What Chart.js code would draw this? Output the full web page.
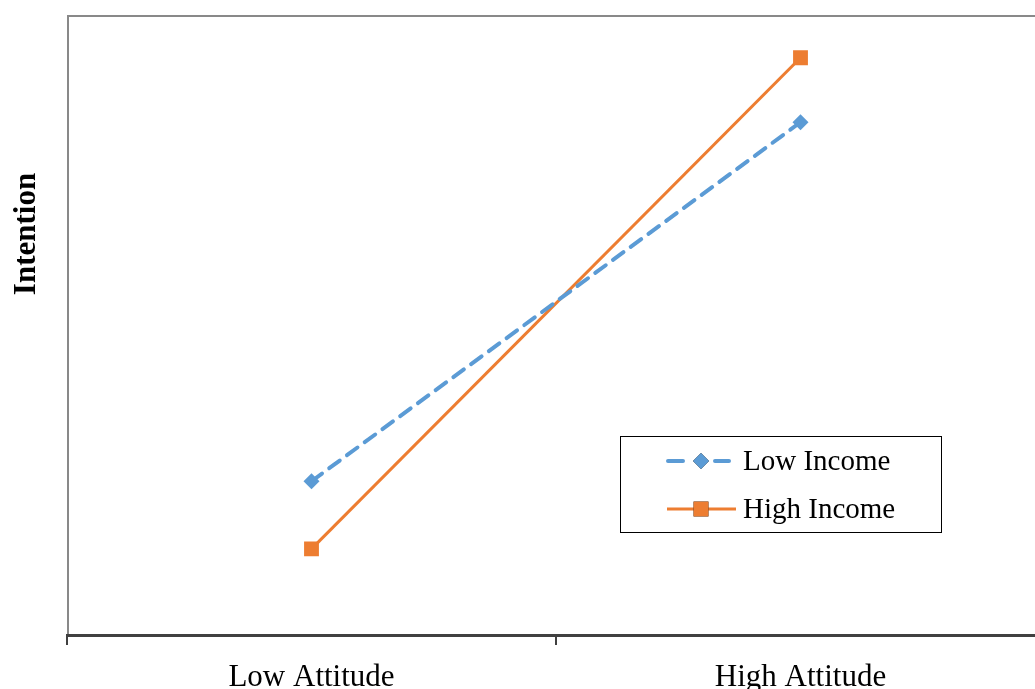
<!DOCTYPE html>
<html>
<head>
<meta charset="utf-8">
<script src="https://cdn.jsdelivr.net/npm/chart.js@4.4.1/dist/chart.umd.min.js"></script>
<style>
  html, body { margin: 0; padding: 0; background: #fff; overflow: hidden; }
  #wrap { position: relative; width: 1060px; height: 689px; }
</style>
</head>
<body>
<div id="wrap"><canvas id="chart"></canvas></div>
<script>
// chart data
const categories = ['Low Attitude', 'High Attitude'];
const lowIncome = [2.48, 8.27];
const highIncome = [1.39, 9.31];
const seriesNames = ['Low Income', 'High Income'];
const yTitle = 'Intention';

const serif = "'Liberation Serif', 'Times New Roman', serif";

// plot frame + y title + legend box drawn by hand
const extras = {
    id: 'extras',
    beforeDraw(chart) {
        const ctx = chart.ctx;
        const a = chart.chartArea;
        ctx.save();
        ctx.strokeStyle = '#898989';
        ctx.lineWidth = 2;
        ctx.strokeRect(a.left + 1, a.top + 1, a.right - a.left, a.bottom - a.top);
        ctx.restore();
    },
    afterDraw(chart) {
        const ctx = chart.ctx;
        ctx.save();
        // y axis title
        ctx.translate(35, 234);
        ctx.rotate(-Math.PI / 2);
        ctx.font = 'bold 31px ' + serif;
        ctx.fillStyle = '#000';
        ctx.textAlign = 'center';
        ctx.textBaseline = 'alphabetic';
        ctx.fillText(yTitle, 0, 0);
        ctx.restore();

        // legend
        ctx.save();
        ctx.strokeStyle = '#000';
        ctx.lineWidth = 1;
        ctx.strokeRect(620.5, 436.5, 321, 96);
        const rows = [461, 509];
        chart.data.datasets.forEach((ds, i) => {
            const y = rows[i];
            ctx.save();
            ctx.strokeStyle = ds.borderColor;
            ctx.lineWidth = ds.borderWidth;
            ctx.lineCap = ds.borderCapStyle || 'butt';
            ctx.beginPath();
            if (ds.borderDash) {
                ctx.moveTo(668, y); ctx.lineTo(683, y);
                ctx.moveTo(715, y); ctx.lineTo(729, y);
            } else {
                ctx.moveTo(667, y); ctx.lineTo(736, y);
            }
            ctx.stroke();
            ctx.restore();
            Chart.helpers.drawPoint(ctx, {
                pointStyle: ds.pointStyle,
                radius: ds.pointRadius,
                borderWidth: 0
            }, 701, y);
            ctx.fillStyle = ds.pointBackgroundColor;
            ctx.fill();
            ctx.fillStyle = '#000';
            ctx.font = '29px ' + serif;
            ctx.textBaseline = 'middle';
            ctx.fillText(ds.label, 743, y + 1);
        });
        ctx.restore();
    }
};

new Chart(document.getElementById('chart'), {
    type: 'line',
    data: {
        labels: categories,
        datasets: [{
            label: seriesNames[0],
            data: lowIncome,
            borderColor: '#5B9BD5',
            backgroundColor: '#5B9BD5',
            pointBackgroundColor: '#5B9BD5',
            pointBorderColor: '#5B9BD5',
            borderWidth: 4,
            borderDash: [13, 9],
            borderCapStyle: 'round',
            pointStyle: 'rectRot',
            pointRadius: 8,
            pointBorderWidth: 0,
            tension: 0
        }, {
            label: seriesNames[1],
            data: highIncome,
            borderColor: '#ED7D31',
            backgroundColor: '#ED7D31',
            pointBackgroundColor: '#ED7D31',
            pointBorderColor: '#ED7D31',
            borderWidth: 3,
            pointStyle: 'rect',
            pointRadius: 10.5,
            pointBorderWidth: 0,
            tension: 0
        }]
    },
    options: {
        responsive: true,
        maintainAspectRatio: false,
        animation: false,
        devicePixelRatio: 1,
        layout: { padding: { top: 15, left: 67, right: 15, bottom: 0 } },
        plugins: {
            legend: { display: false },
            tooltip: { enabled: false }
        },
        scales: {
            x: {
                offset: true,
                grid: {
                    offset: true,
                    drawOnChartArea: false,
                    drawTicks: true,
                    tickLength: 10,
                    color: '#404040',
                    lineWidth: 2
                },
                border: { color: '#404040', width: 3 },
                ticks: {
                    color: '#000',
                    font: { family: serif, size: 31 },
                    padding: 14,
                    maxRotation: 0
                },
                afterFit(scale) { scale.height = 54; }
            },
            y: {
                display: false,
                min: 0,
                max: 10
            }
        }
    },
    plugins: [extras]
});
</script>
</body>
</html>
